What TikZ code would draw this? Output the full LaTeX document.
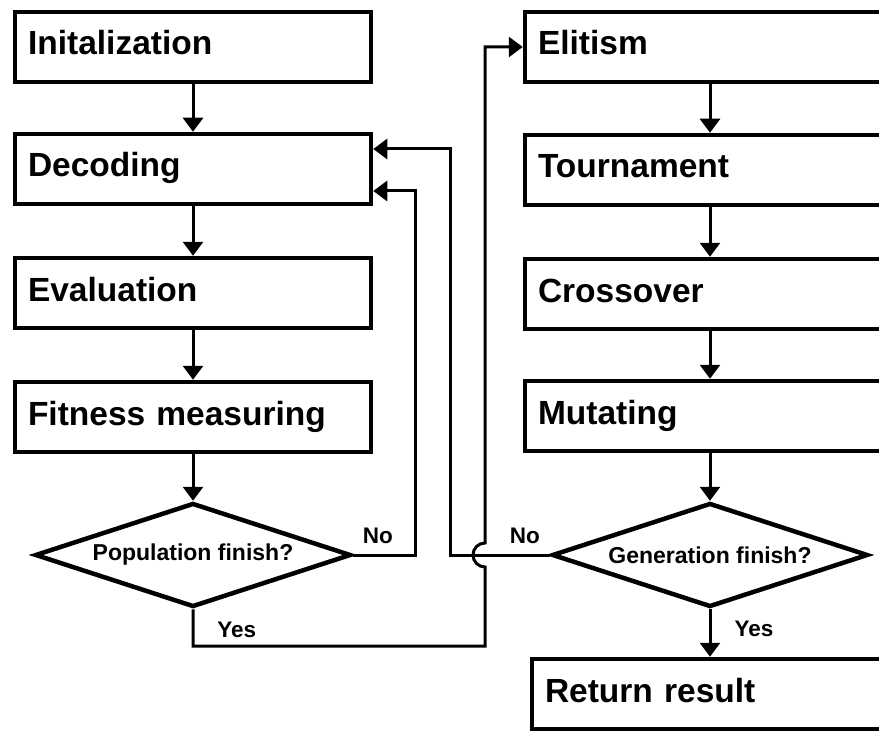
\documentclass[tikz,border=0pt]{standalone}
\usepackage{fontspec}
\setmainfont{Liberation Sans}
\usetikzlibrary{shapes.geometric,arrows.meta}

\begin{document}
\begin{tikzpicture}[x=1pt, y=-1pt, >={Triangle[width=20pt,length=14pt]}, font=\bfseries]
  \tikzset{box/.style={draw, line width=4.5pt, text width=330pt, inner xsep=13pt, minimum height=70pt,
      text height=23pt, text depth=7pt, align=left, font=\bfseries\fontsize{33.5}{40}\selectfont},
    decision/.style={draw, diamond, aspect=3, line width=4.5pt, minimum width=316pt, minimum height=104pt,
      inner sep=0pt, font=\bfseries\fontsize{23}{27}\selectfont},
    lbl/.style={inner sep=0pt, font=\bfseries\fontsize{22.5}{27}\selectfont},
    flow/.style={->, line width=3pt}}
  \useasboundingbox (0,0) rectangle (879,733);
  \clip (0,0) rectangle (879,733);
  % left column
  \node[box] (init) at (193,47) {Initalization};
  \node[box] (dec) at (193,169) {Decoding};
  \node[box] (eval) at (193,293) {Evaluation};
  \node[box] (fit) at (193,417) {Fitness measuring};
  \node[decision] (popq) at (193,555) {Population finish?};
  % right column
  \node[box] (elite) at (703,47) {Elitism};
  \node[box] (tour) at (703,170) {Tournament};
  \node[box] (cross) at (703,294) {Crossover};
  \node[box] (mut) at (703,416) {Mutating};
  \node[decision] (genq) at (710,555) {Generation finish?};
  \node[box] (ret) at (710,694) {Return result};
  % bends of the loops
  \coordinate (popno) at (415,191);
  \coordinate (genno) at (450,149);
  \coordinate (popyes) at (485,646);
  \coordinate (hop) at (485,555);
  \draw[flow] (init) -- (dec);
  \draw[flow] (dec) -- (eval);
  \draw[flow] (eval) -- (fit);
  \draw[flow] (fit) -- (popq);
  \draw[flow] (popq.east) -- node[lbl, pos=0.4, anchor=base, yshift=12pt] {No} (popq.east -| popno)
    -- (popno) -- (popno -| dec.east);
  \draw[flow] (genq.west) -- node[lbl, pos=0.25, anchor=base, yshift=12pt] {No} (genq.west -| genno)
    -- (genno) -- (genno -| dec.east);
  \draw[flow] (popq.south) -- (popq.south |- popyes) -- node[lbl, pos=0.15, anchor=base, yshift=9pt] {Yes} (popyes)
    -- ([yshift=-12pt]hop) arc[start angle=270, end angle=90, radius=12pt] -- (popyes |- elite.west) -- (elite.west);
  \draw[flow] (elite.south -| genq.north) -- (tour.north -| genq.north);
  \draw[flow] (tour.south -| genq.north) -- (cross.north -| genq.north);
  \draw[flow] (cross.south -| genq.north) -- (mut.north -| genq.north);
  \draw[flow] (mut.south -| genq.north) -- (genq.north);
  \draw[flow] (genq.south) -- node[lbl, pos=0.58, anchor=base west, xshift=23pt] {Yes} (ret.north);
\end{tikzpicture}
\end{document}
